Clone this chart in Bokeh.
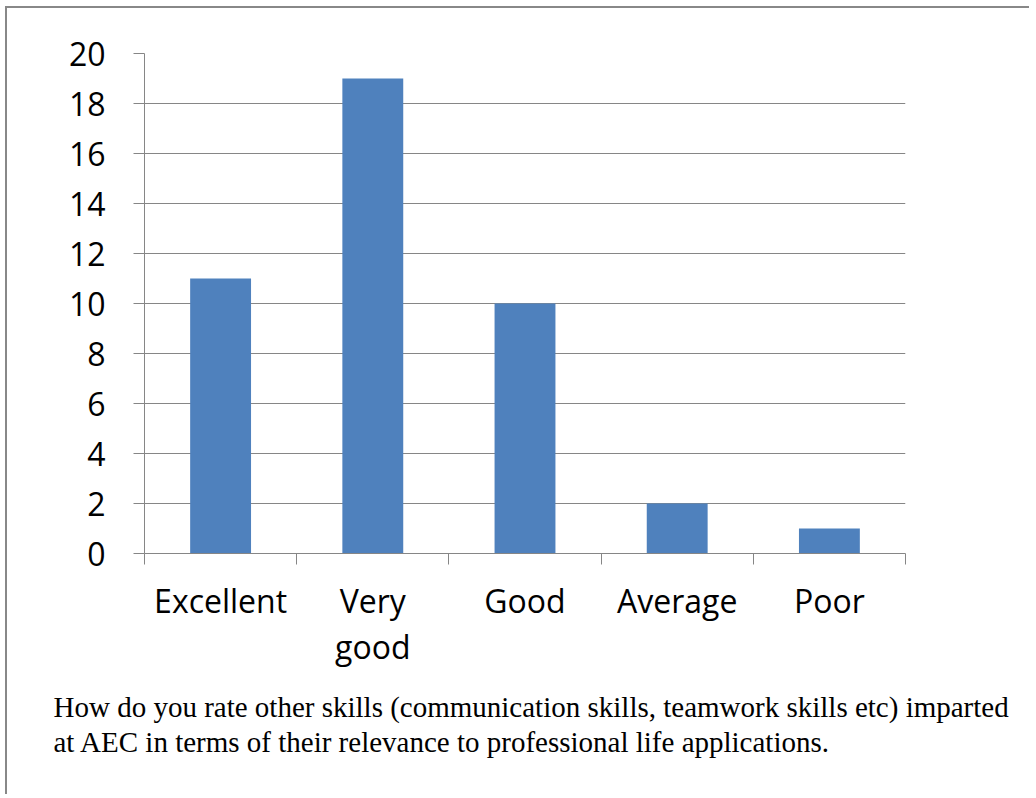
import numpy as np
from bokeh.plotting import figure
from bokeh.models import Range1d, FixedTicker, Title, ColumnDataSource
from bokeh.embed import file_html
from bokeh.resources import INLINE

categories = ["Excellent", "Very good", "Good", "Average", "Poor"]
counts = [11, 19, 10, 2, 1]
y_ticks = [0, 2, 4, 6, 8, 10, 12, 14, 16, 18, 20]
tick_labels = {"Very good": "Very\ngood"}
caption = ("How do you rate other skills (communication skills, teamwork skills etc) imparted\n"
           "at AEC in terms of their relevance to professional life applications.")

GRAY = "#868686"
BAR = "#4F81BD"

idx = np.arange(len(categories))
src = ColumnDataSource(dict(x=idx + 0.5, top=counts, cat=categories))

p = figure(width=1024, height=788, output_backend="svg", toolbar_location=None,
           x_range=Range1d(0, len(categories)), y_range=Range1d(y_ticks[0], y_ticks[-1]),
           min_border_left=137, min_border_right=126, min_border_top=45, min_border_bottom=243,
           styles={"border-top": "2px solid #888888", "border-left": "2px solid #888888",
                   "margin-left": "5px", "margin-top": "6px"})
p.outline_line_color = None
p.background_fill_color = "white"
p.border_fill_color = "white"

p.vbar(x="x", top="top", width=0.4, bottom=0, source=src, fill_color=BAR, line_color=None)

# x axis: minor ticks at category boundaries, labels at centres
xa = p.xaxis[0]
xa.ticker = FixedTicker(ticks=list(idx + 0.5), minor_ticks=list(range(len(categories) + 1)))
xa.major_label_overrides = {float(i + 0.5): tick_labels.get(c, c) for i, c in enumerate(categories)}
xa.major_tick_out = 0
xa.major_tick_in = 0
xa.minor_tick_out = 11
xa.minor_tick_in = 0
xa.minor_tick_line_color = GRAY
xa.axis_line_color = GRAY
xa.major_label_text_font = "Open Sans"
xa.major_label_text_font_size = "32px"
xa.major_label_text_color = "black"
xa.major_label_text_line_height = 1.08
xa.major_label_standoff = 14

ya = p.yaxis[0]
ya.ticker = FixedTicker(ticks=y_ticks)
ya.major_tick_out = 11
ya.major_tick_in = 0
ya.minor_tick_line_color = None
ya.major_tick_line_color = GRAY
ya.axis_line_color = GRAY
ya.major_label_text_font = "Open Sans"
ya.major_label_text_font_size = "32px"
ya.major_label_text_color = "black"
ya.major_label_standoff = 28

p.xgrid.grid_line_color = None
p.ygrid.grid_line_color = GRAY
p.ygrid.grid_line_width = 1

cap = Title(text=caption, align="left", offset=-91, standoff=37,
            text_font="Liberation Serif", text_font_size="29px", text_font_style="normal",
            text_color="black", text_line_height=1.09)
p.add_layout(cap, "below")

open("out.html", "w").write(file_html(p, INLINE))
